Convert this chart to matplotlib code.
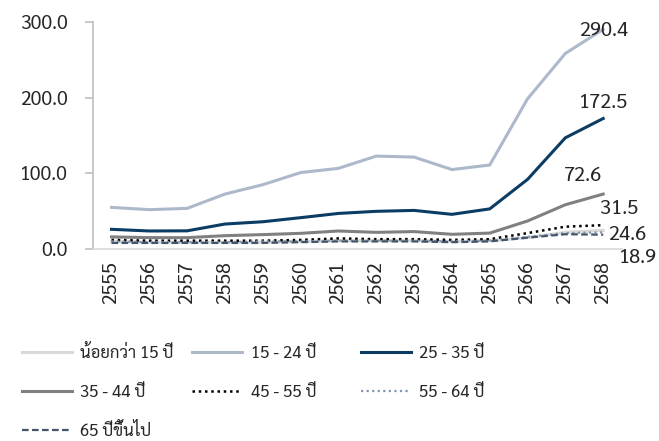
import matplotlib
matplotlib.use("Agg")
import matplotlib.pyplot as plt

plt.rcParams['font.family'] = ['Sarabun', 'DejaVu Sans']

years = ['2555', '2556', '2557', '2558', '2559', '2560', '2561',
         '2562', '2563', '2564', '2565', '2566', '2567', '2568']

under_15 = [10, 9, 9, 9, 9, 10, 11, 11, 11, 10, 11, 15, 22, 24.6]
age_15_24 = [55, 52, 53.7, 72.6, 85, 101, 106.6, 122.8, 121.5, 105, 111, 198.5, 258.5, 290.4]
age_25_35 = [26, 23.8, 24, 33, 36, 41.4, 47, 49.8, 51, 45.8, 53, 92, 147, 172.5]
age_35_44 = [16, 15, 15, 17.6, 19, 20.7, 23.8, 22, 23, 19.4, 21, 37, 58.5, 72.6]
age_45_55 = [12, 11, 11, 11, 11, 12, 14, 13, 13, 12, 13, 21, 29.5, 31.5]
age_55_64 = [10, 9, 9, 9, 10, 10, 11, 11, 11, 10, 11, 16, 21, 22]
age_65_up = [8, 8, 8, 8, 8, 9, 10, 10, 10, 9, 10, 15, 19.5, 18.9]

labels = ['น้อยกว่า 15 ปี', '15 - 24 ปี', '25 - 35 ปี', '35 - 44 ปี',
          '45 - 55 ปี', '55 - 64 ปี', '65 ปีขึ้นไป']
series = [under_15, age_15_24, age_25_35, age_35_44, age_45_55, age_55_64, age_65_up]
colors = ['#d9d9d9', '#adb9ca', '#0b3c64', '#808080', '#000000', '#8497b0', '#44546a']
styles = ['-', '-', '-', '-', (0, (1, 1.5)), (0, (1, 1.5)), (0, (3, 1.5))]
widths = [2.2, 2.2, 2.2, 2.2, 1.8, 1.6, 1.6]

# end-of-line value labels: offset from the last point, in pixels (55-64 has none)
end_labels = {1: (0, -2), 2: (0, 15), 3: (-20, 18), 4: (16, 16), 0: (24, -5), 6: (35, -23)}

fig = plt.figure(figsize=(6.59, 4.41), dpi=100)
ax = fig.add_axes([0.1405, 0.4354, 0.8035, 0.5146])

x = list(range(len(years)))
handles = []
for i, (vals, lab) in enumerate(zip(series, labels)):
    ln, = ax.plot(x, vals, color=colors[i], linestyle=styles[i], linewidth=widths[i],
                  label=lab, zorder=2 + (i in (4, 5, 6)))
    handles.append(ln)

for i, off in end_labels.items():
    ax.annotate(f'{series[i][-1]:.1f}', (x[-1], series[i][-1]), xytext=(off[0] * 0.72, off[1] * 0.72),
                textcoords='offset points', ha='center', va='center', fontsize=14.5, color='#262626',
                annotation_clip=False, zorder=5)

ax.set_xlim(-0.5, len(years) - 0.5)
ax.set_ylim(0, 300)
ax.set_yticks([0, 100, 200, 300])
ax.set_yticklabels([f'{v:.1f}' for v in [0, 100, 200, 300]])
ax.set_xticks(x)
ax.set_xticklabels(years, rotation=90)

for s in ['top', 'right']:
    ax.spines[s].set_visible(False)
ax.spines['left'].set_color('#bfbfbf')
ax.spines['bottom'].set_color('#d9d9d9')
ax.spines['left'].set_linewidth(1.2)
ax.spines['bottom'].set_linewidth(1.2)
ax.tick_params(axis='y', length=6, width=1.2, color='#bfbfbf', pad=12, labelsize=14, labelcolor='#262626')
ax.tick_params(axis='x', length=0, pad=9, labelsize=14, labelcolor='#262626')

# legend laid out as three columns with even widths, like the source
cols = [[0, 3, 6], [1, 4], [2, 5]]
col_x = [0.033, 0.292, 0.548]
for c, idx in enumerate(cols):
    leg = fig.legend([handles[k] for k in idx], [labels[k] for k in idx],
                     loc='upper left', bbox_to_anchor=(col_x[c], 0.218), frameon=False,
                     fontsize=12, handlelength=3.0, handletextpad=0.5, labelspacing=1.32,
                     borderaxespad=0, borderpad=0)
    for t in leg.get_texts():
        t.set_color('#262626')

fig.savefig('out.png', dpi=100)
